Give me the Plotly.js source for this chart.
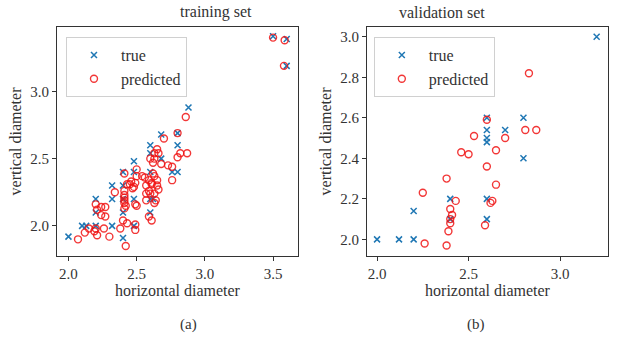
<!DOCTYPE html>
<html>
<head>
<meta charset="utf-8">
<script src="https://cdn.plot.ly/plotly-3.0.1.min.js"></script>
<style>html,body{margin:0;padding:0;background:#fff;}#chart{width:626px;height:339px;}</style>
</head>
<body>
<div id="chart"></div>
<script>
// ---- training set ----
const trainTrueX = [3.5, 3.6, 3.6, 2.88, 2.8, 2.68, 2.6, 2.8, 2.6, 2.68, 2.48,
  2.4, 2.48, 2.6, 2.76, 2.8, 2.32, 2.4, 2.2, 2.32, 2.4, 2.48, 2.6, 2.62,
  2.2, 2.4, 2.6, 2.1, 2.13, 2.2, 2.32, 2.48, 2.0, 2.4];
const trainTrueY = [3.41, 3.39, 3.19, 2.88, 2.69, 2.68, 2.6, 2.6, 2.54, 2.5, 2.48,
  2.4, 2.4, 2.4, 2.4, 2.4, 2.3, 2.3, 2.2, 2.2, 2.2, 2.2, 2.2, 2.2,
  2.1, 2.1, 2.1, 2.0, 2.0, 2.0, 2.0, 2.0, 1.92, 1.91];
const trainPredX = [3.5, 3.585, 3.58, 2.86, 2.8, 2.7,
  2.65, 2.63, 2.66, 2.82, 2.87, 2.8,
  2.6, 2.63, 2.62, 2.68, 2.73, 2.76,
  2.5, 2.41, 2.62, 2.5, 2.54, 2.56, 2.63,
  2.59, 2.65, 2.76, 2.46, 2.49, 2.61,
  2.45, 2.43, 2.57, 2.61, 2.65, 2.48, 2.47, 2.66,
  2.59, 2.34, 2.41, 2.57, 2.6, 2.63, 2.41,
  2.41, 2.57, 2.64, 2.41, 2.41, 2.63, 2.42, 2.41, 2.5, 2.49,
  2.2, 2.24, 2.27, 2.21,
  2.24, 2.27, 2.59, 2.61, 2.4, 2.43, 2.49,
  2.15, 2.2, 2.26, 2.38, 2.49, 2.19,
  2.12, 2.21, 2.3, 2.07, 2.42];
const trainPredY = [3.4, 3.38, 3.19, 2.81, 2.69, 2.65,
  2.57, 2.54, 2.54, 2.54, 2.54, 2.51,
  2.5, 2.5, 2.47, 2.46, 2.45, 2.44,
  2.42, 2.39, 2.39, 2.37, 2.37, 2.36, 2.37,
  2.34, 2.34, 2.34, 2.33, 2.32, 2.32,
  2.31, 2.31, 2.3, 2.31, 2.3, 2.29, 2.28, 2.27,
  2.26, 2.25, 2.26, 2.24, 2.24, 2.24, 2.23,
  2.21, 2.19, 2.19, 2.19, 2.17, 2.17, 2.15, 2.13, 2.15, 2.16,
  2.16, 2.14, 2.14, 2.12,
  2.08, 2.07, 2.07, 2.04, 2.04, 2.02, 2.01,
  1.98, 1.98, 1.98, 1.98, 1.97, 1.96,
  1.95, 1.93, 1.92, 1.9, 1.85];

// ---- validation set ----
const valTrueX = [3.2, 2.8, 2.6, 2.6, 2.7, 2.6, 2.6, 2.8, 2.4, 2.6, 2.2, 2.4, 2.6, 2.0, 2.12, 2.2];
const valTrueY = [3.0, 2.6, 2.6, 2.54, 2.54, 2.5, 2.48, 2.4, 2.2, 2.2, 2.14, 2.1, 2.1, 2.0, 2.0, 2.0];
const valPredX = [2.83, 2.6, 2.81, 2.87, 2.53, 2.7, 2.65, 2.46, 2.5, 2.6, 2.38, 2.65,
  2.25, 2.43, 2.63, 2.62, 2.4, 2.41, 2.4, 2.4, 2.39, 2.59, 2.26, 2.38];
const valPredY = [2.82, 2.59, 2.54, 2.54, 2.51, 2.5, 2.44, 2.43, 2.42, 2.36, 2.3, 2.27,
  2.23, 2.19, 2.19, 2.18, 2.15, 2.12, 2.1, 2.08, 2.04, 2.07, 1.98, 1.97];

// ---- ticks / labels ----
const trainXTicks = [2.0, 2.5, 3.0, 3.5];
const trainYTicks = [2.0, 2.5, 3.0];
const valXTicks = [2.0, 2.5, 3.0];
const valYTicks = [2.0, 2.2, 2.4, 2.6, 2.8, 3.0];
const seriesNames = ['true', 'predicted'];
const panelTitles = ['training set', 'validation set'];
const panelLabels = ['(a)', '(b)'];
const xTitle = 'horizontal diameter';
const yTitle = 'vertical diameter';

const FONT = 'Liberation Serif, Times New Roman, serif';
const BLUE = '#1f77b4';
const RED = 'rgba(240,20,20,0.85)';

function trueTrace(x, y, xa, ya, leg) {
  return {x: x, y: y, xaxis: xa, yaxis: ya, type: 'scatter', mode: 'markers', name: seriesNames[0],
    legend: leg, marker: {symbol: 'x-thin', size: 6, line: {width: 1.5, color: BLUE}, color: BLUE}};
}
function predTrace(x, y, xa, ya, leg) {
  return {x: x, y: y, xaxis: xa, yaxis: ya, type: 'scatter', mode: 'markers', name: seriesNames[1],
    legend: leg, marker: {symbol: 'circle-open', size: 7, line: {width: 1.4, color: RED}, color: RED}};
}

const data = [
  trueTrace(trainTrueX, trainTrueY, 'x', 'y', 'legend'),
  predTrace(trainPredX, trainPredY, 'x', 'y', 'legend'),
  trueTrace(valTrueX, valTrueY, 'x2', 'y2', 'legend2'),
  predTrace(valPredX, valPredY, 'x2', 'y2', 'legend2')
];

function axis(extra) {
  return Object.assign({
    showgrid: false, zeroline: false, showline: true, mirror: true,
    linecolor: '#333', linewidth: 1, ticks: 'outside', ticklen: 4, tickcolor: '#333',
    tickfont: {family: FONT, size: 15, color: '#333'}, tickformat: '.1f', tickmode: 'array'
  }, extra);
}
function legendCfg(x) {
  return {x: x, y: 0.956, xanchor: 'left', yanchor: 'top', xref: 'paper', yref: 'paper',
    bgcolor: 'rgba(255,255,255,0.8)', bordercolor: '#d0d0d0', borderwidth: 1,
    font: {family: FONT, size: 16, color: '#333'}, itemwidth: 44, tracegroupgap: 0};
}

const layout = {
  width: 626, height: 339,
  margin: {l: 57, r: 18, t: 27, b: 83},
  paper_bgcolor: '#fff', plot_bgcolor: '#fff',
  showlegend: true,
  font: {family: FONT, color: '#333'},
  xaxis: axis({domain: [0, 0.4374], range: [1.916, 3.683], tickvals: trainXTicks, anchor: 'y',
    title: {text: xTitle, font: {family: FONT, size: 16, color: '#333'}, standoff: 0}}),
  yaxis: axis({domain: [0, 1], range: [1.776, 3.479], tickvals: trainYTicks, anchor: 'x',
    title: {text: yTitle, font: {family: FONT, size: 16, color: '#333'}, standoff: 4}}),
  xaxis2: axis({domain: [0.5626, 1], range: [1.945, 3.262], tickvals: valXTicks, anchor: 'y2',
    title: {text: xTitle, font: {family: FONT, size: 16, color: '#333'}, standoff: 0}}),
  yaxis2: axis({domain: [0, 1], range: [1.918, 3.048], tickvals: valYTicks, anchor: 'x2',
    title: {text: yTitle, font: {family: FONT, size: 16, color: '#333'}, standoff: 4}}),
  legend: legendCfg(0.0163),
  legend2: legendCfg(0.575),
  annotations: [
    {text: panelTitles[0], xref: 'paper', yref: 'paper', x: 0.2187, y: 1, yanchor: 'bottom', yshift: 4,
      showarrow: false, font: {family: FONT, size: 16, color: '#333'}},
    {text: panelTitles[1], xref: 'paper', yref: 'paper', x: 0.7813, y: 1, yanchor: 'bottom', yshift: 4,
      showarrow: false, font: {family: FONT, size: 16, color: '#333'}},
    {text: panelLabels[0], xref: 'paper', yref: 'paper', x: 0.2187, y: -0.301, yanchor: 'middle',
      showarrow: false, font: {family: FONT, size: 15, color: '#333'}},
    {text: panelLabels[1], xref: 'paper', yref: 'paper', x: 0.7813, y: -0.301, yanchor: 'middle',
      showarrow: false, font: {family: FONT, size: 15, color: '#333'}}
  ]
};

Plotly.newPlot('chart', data, layout, {staticPlot: true, displayModeBar: false});
</script>
</body>
</html>
